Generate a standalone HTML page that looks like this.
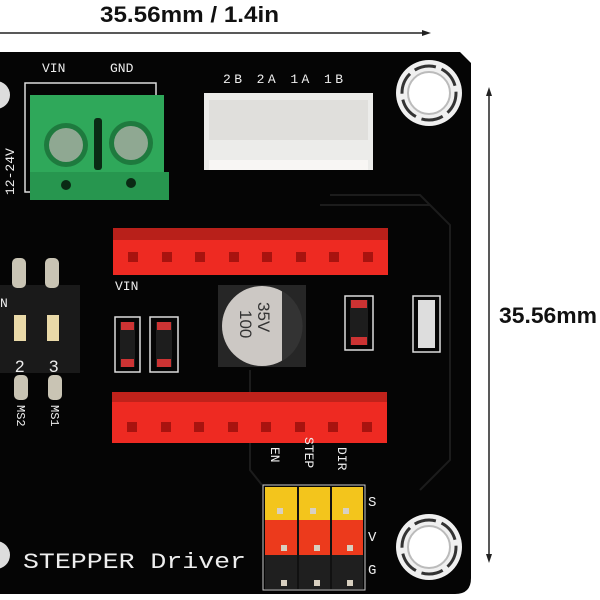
<!DOCTYPE html>
<html><head><meta charset="utf-8"><style>
body{margin:0;background:#fff;width:600px;height:600px;overflow:hidden}
svg{display:block}
</style></head><body>
<svg width="600" height="600" viewBox="0 0 600 600" xmlns="http://www.w3.org/2000/svg">
<text x="100" y="22" font-family="Liberation Sans" font-weight="bold" font-size="22" fill="#111" textLength="179" lengthAdjust="spacingAndGlyphs">35.56mm / 1.4in</text>
<line x1="0" y1="33" x2="428" y2="33" stroke="#222" stroke-width="1.5"/>
<path d="M422 30 L431 33 L422 36 Z" fill="#222"/>
<line x1="489" y1="90" x2="489" y2="560" stroke="#222" stroke-width="1.5"/>
<path d="M486 96 L489 87 L492 96 Z M486 554 L489 563 L492 554 Z" fill="#222"/>
<text x="499" y="323" font-family="Liberation Sans" font-weight="bold" font-size="22" fill="#111" textLength="98" lengthAdjust="spacingAndGlyphs">35.56mm</text>
<!-- board -->
<path d="M0 52 L460 52 L471 63 L471 578 Q471 594 455 594 L0 594 Z" fill="#050505"/>
<path d="M330 195 L420 195 L450 225 L450 460 L420 490 M320 205 L430 205 L440 215 M250 370 L250 470 L262 485" stroke="#1c1c1c" stroke-width="2" fill="none"/>
<circle cx="-4" cy="95" r="14" fill="#ddd"/>
<circle cx="-4" cy="555" r="14" fill="#ddd"/>
<text transform="translate(14,195) rotate(-90)" font-family="Liberation Mono" font-size="13" fill="#eee">12-24V</text>
<text x="42" y="72" font-family="Liberation Mono" font-size="13" fill="#eee">VIN</text>
<text x="110" y="72" font-family="Liberation Mono" font-size="13" fill="#eee">GND</text>
<rect x="25" y="83" width="131" height="109" fill="none" stroke="#ddd" stroke-width="1.5"/>
<!-- green terminal -->
<rect x="30" y="95" width="134" height="80" fill="#2fa85a"/>
<rect x="30" y="172" width="139" height="28" fill="#27964f"/>
<circle cx="66" cy="145" r="22" fill="#1e7a3e"/><circle cx="66" cy="145" r="17" fill="#8fa892"/>
<circle cx="131" cy="143" r="22" fill="#1e7a3e"/><circle cx="131" cy="143" r="17" fill="#8fa892"/>
<rect x="94" y="118" width="8" height="52" rx="3" fill="#0a2a14"/>
<circle cx="66" cy="185" r="5" fill="#0a2a14"/><circle cx="131" cy="183" r="5" fill="#0a2a14"/>
<!-- white connector -->
<text x="223" y="83" font-family="Liberation Mono" font-size="13" fill="#eee" textLength="120">2B 2A 1A 1B</text>
<rect x="204" y="93" width="169" height="77" fill="#ececea"/>
<rect x="209" y="100" width="159" height="40" fill="#e0dfdc"/>
<rect x="209" y="160" width="159" height="10" fill="#f8f6f4"/>
<!-- mounting holes -->
<circle cx="429" cy="93" r="33" fill="#f0f0f0"/><circle cx="429" cy="93" r="27" fill="none" stroke="#333" stroke-width="3" stroke-dasharray="22 6"/><circle cx="429" cy="93" r="21" fill="#fff" stroke="#bbb" stroke-width="2"/>
<circle cx="429" cy="547" r="33" fill="#f0f0f0"/><circle cx="429" cy="547" r="27" fill="none" stroke="#333" stroke-width="3" stroke-dasharray="22 6"/><circle cx="429" cy="547" r="21" fill="#fff" stroke="#bbb" stroke-width="2"/>
<!-- red headers -->
<rect x="113" y="228" width="275" height="47" fill="#ee2a22"/>
<rect x="113" y="228" width="275" height="12" fill="#b8201a"/>
<g fill="#a8130f">
<rect x="128" y="252" width="10" height="10"/><rect x="162" y="252" width="10" height="10"/><rect x="195" y="252" width="10" height="10"/><rect x="229" y="252" width="10" height="10"/><rect x="262" y="252" width="10" height="10"/><rect x="296" y="252" width="10" height="10"/><rect x="329" y="252" width="10" height="10"/><rect x="363" y="252" width="10" height="10"/>
</g>
<text x="115" y="290" font-family="Liberation Mono" font-size="13" fill="#eee">VIN</text>
<rect x="112" y="392" width="275" height="51" fill="#ee2a22"/>
<rect x="112" y="392" width="275" height="10" fill="#c0221b"/>
<g fill="#a8130f">
<rect x="127" y="422" width="10" height="10"/><rect x="161" y="422" width="10" height="10"/><rect x="194" y="422" width="10" height="10"/><rect x="228" y="422" width="10" height="10"/><rect x="261" y="422" width="10" height="10"/><rect x="295" y="422" width="10" height="10"/><rect x="328" y="422" width="10" height="10"/><rect x="362" y="422" width="10" height="10"/>
</g>
<!-- DIP switch -->
<rect x="0" y="285" width="80" height="88" fill="#1a1a1a"/>
<rect x="12" y="258" width="14" height="30" rx="5" fill="#c9c4b4"/><rect x="45" y="258" width="14" height="30" rx="5" fill="#c9c4b4"/>
<rect x="14" y="315" width="12" height="26" fill="#e9d9a8"/><rect x="47" y="315" width="12" height="26" fill="#e9d9a8"/>
<text x="0" y="307" font-family="Liberation Mono" font-size="13" fill="#eee">N</text>
<text x="15" y="372" font-family="Liberation Sans" font-size="17" fill="#eee">2</text>
<text x="49" y="372" font-family="Liberation Sans" font-size="17" fill="#eee">3</text>
<rect x="14" y="375" width="14" height="25" rx="5" fill="#c9c4b4"/><rect x="48" y="375" width="14" height="25" rx="5" fill="#c9c4b4"/>
<text transform="translate(17,405) rotate(90)" font-family="Liberation Mono" font-size="12" fill="#eee">MS2</text>
<text transform="translate(51,405) rotate(90)" font-family="Liberation Mono" font-size="12" fill="#eee">MS1</text>
<!-- resistors -->
<g fill="none" stroke="#ddd" stroke-width="1.5"><rect x="115" y="317" width="25" height="55"/><rect x="150" y="317" width="28" height="55"/><rect x="345" y="296" width="28" height="54"/><rect x="413" y="296" width="27" height="56"/></g>
<rect x="120" y="322" width="15" height="45" fill="#1d1d1d"/><rect x="121" y="322" width="13" height="8" fill="#c33"/><rect x="121" y="359" width="13" height="8" fill="#c33"/>
<rect x="156" y="322" width="16" height="45" fill="#1d1d1d"/><rect x="157" y="322" width="14" height="8" fill="#c33"/><rect x="157" y="359" width="14" height="8" fill="#c33"/>
<rect x="350" y="300" width="18" height="45" fill="#1d1d1d"/><rect x="351" y="300" width="16" height="8" fill="#c33"/><rect x="351" y="337" width="16" height="8" fill="#c33"/>
<rect x="418" y="300" width="17" height="48" fill="#ddd"/>
<!-- capacitor -->
<rect x="218" y="285" width="88" height="82" fill="#262626"/>
<circle cx="262" cy="326" r="40" fill="#ccc8c4"/>
<path d="M282 291 A40 40 0 0 1 282 361 Z" fill="#333"/>
<text transform="translate(256,343) rotate(-90) scale(-1,-1)" font-family="Liberation Sans" font-size="17" fill="#333"></text>
<text transform="translate(240,310) rotate(90)" font-family="Liberation Sans" font-size="17" fill="#333">100</text>
<text transform="translate(258,302) rotate(90)" font-family="Liberation Sans" font-size="17" fill="#333">35V</text>
<!-- pin header -->
<rect x="263" y="485" width="102" height="105" fill="none" stroke="#ccc"/>
<rect x="265" y="487" width="98" height="33" fill="#f3c51c"/>
<rect x="265" y="520" width="98" height="35" fill="#ec3a1c"/>
<rect x="265" y="555" width="98" height="34" fill="#1f1f1f"/>
<g stroke="#111" stroke-width="2"><line x1="298" y1="487" x2="298" y2="589"/><line x1="331" y1="487" x2="331" y2="589"/></g>
<g fill="#d8d0c0"><rect x="277" y="508" width="6" height="6"/><rect x="310" y="508" width="6" height="6"/><rect x="343" y="508" width="6" height="6"/><rect x="281" y="545" width="6" height="6"/><rect x="314" y="545" width="6" height="6"/><rect x="347" y="545" width="6" height="6"/><rect x="281" y="580" width="6" height="6"/><rect x="314" y="580" width="6" height="6"/><rect x="347" y="580" width="6" height="6"/></g>
<text transform="translate(271,447) rotate(90)" font-family="Liberation Mono" font-size="13" fill="#eee">EN</text>
<text transform="translate(305,437) rotate(90)" font-family="Liberation Mono" font-size="13" fill="#eee">STEP</text>
<text transform="translate(338,447) rotate(90)" font-family="Liberation Mono" font-size="13" fill="#eee">DIR</text>
<text x="368" y="506" font-family="Liberation Mono" font-size="14" fill="#eee">S</text>
<text x="368" y="541" font-family="Liberation Mono" font-size="14" fill="#eee">V</text>
<text x="368" y="574" font-family="Liberation Mono" font-size="14" fill="#eee">G</text>
<text x="23" y="568" font-family="Liberation Mono" font-size="22" fill="#eee" textLength="223" lengthAdjust="spacingAndGlyphs">STEPPER Driver</text>
</svg>
</body></html>
